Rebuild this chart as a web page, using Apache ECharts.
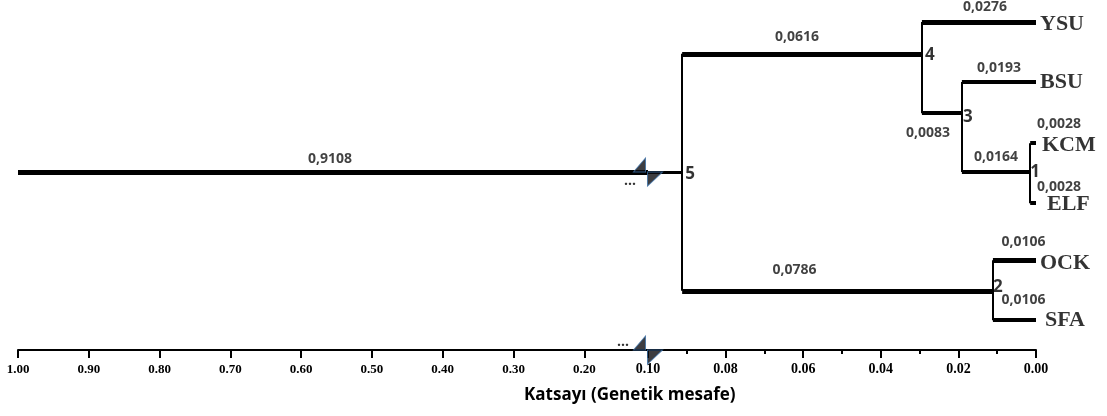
<!DOCTYPE html>
<html><head><meta charset="utf-8">
<script src="https://cdn.jsdelivr.net/npm/echarts@6/dist/echarts.min.js"></script>
<style>html,body{margin:0;padding:0;background:#fff}#c{width:1107px;height:416px}</style>
</head><body><div id="c"></div>
<script>
// ---------- DATA ----------
const leafNames = ['YSU', 'BSU', 'KCM', 'ELF', 'OCK', 'SFA'];
const leafRows = [0, 1, 2.02, 3.02, 3.97, 4.97];
const nodeNames = ['1', '2', '3', '4', '5'];
const nodeHeights = [0.0015, 0.0111, 0.0191, 0.0294, 0.0912];
const nodeRows = [2.5, 4.48, 1.52, 0.53, 2.5];
const nodeChildren = [['KCM', 'ELF'], ['OCK', 'SFA'], ['BSU', '1'], ['YSU', '3'], ['4', '2']];
const rootHeight = 1.0;
const branchChild = ['YSU', 'BSU', '3', 'KCM', 'ELF', '1', 'OCK', 'SFA', '4', '2', '5'];
const branchLabels = ['0,0276', '0,0193', '0,0083', '0,0028', '0,0028', '0,0164', '0,0106', '0,0106', '0,0616', '0,0786', '0,9108'];
const leftTicks = [1.0, 0.9, 0.8, 0.7, 0.6, 0.5, 0.4, 0.3, 0.2];
const rightTickStep = 0.02;
const axisTitle = 'Katsayı (Genetik mesafe)';

// ---------- LAYOUT / STYLE ----------
const A_MIN = 0.11, BREAK = 0.10;
const Y_MIN = -0.3, Y_MAX = 5.4667;
const thick = {YSU: 5, BSU: 4, '3': 4, KCM: 4, ELF: 4, '1': 4, OCK: 5, SFA: 4, '4': 5, '2': 5};
const branchOffset = {YSU: [6, -15], BSU: [0, -14], '3': [-14, 20], KCM: [26, -19], ELF: [26, -16], '1': [0, -15],
  OCK: [9, -18], SFA: [9, -20], '4': [-5, -17], '2': [-43, -21], '5': [-3, -13]};
const nodeOffset = {'5': [8, 2], '4': [8, 1], '3': [6, 4], '1': [5, 0], '2': [5, -4]};
const leafOffset = {YSU: [4, 2], BSU: [4, 0], KCM: [6, 2], ELF: [11, 1], OCK: [4, 3], SFA: [9, 0]};
const INK = '#000';
const breakPath = 'path://M0,14 L12,0 L12,14 Z M14,14 L29,14 L14,28 Z';

// ---------- BUILD ----------
const pos = {};
leafNames.forEach((n, i) => pos[n] = {h: 0, r: leafRows[i]});
nodeNames.forEach((n, i) => pos[n] = {h: nodeHeights[i], r: nodeRows[i]});
const parentOf = {};
nodeNames.forEach((n, i) => nodeChildren[i].forEach(c => parentOf[c] = n));

const segB = [];
nodeNames.forEach((n, i) => {
  const p = pos[n];
  const rows = nodeChildren[i].map(c => pos[c].r);
  segB.push({coords: [[p.h, Math.min(...rows)], [p.h, Math.max(...rows)]], lineStyle: {width: 2}});
  nodeChildren[i].forEach(c => {
    segB.push({coords: [[p.h, pos[c].r], [pos[c].h, pos[c].r]], lineStyle: {width: thick[c]}});
  });
});
segB.push({coords: [[BREAK, pos['5'].r], [pos['5'].h, pos['5'].r]], lineStyle: {width: 3}});
const segA = [{coords: [[rootHeight, pos['5'].r], [A_MIN, pos['5'].r]], lineStyle: {width: 5}}];

const lblFont = {fontFamily: 'Open Sans', fontWeight: 'bold', fontSize: 14, color: '#111'};
const branchB = [], branchA = [];
branchChild.forEach((c, i) => {
  if (c === '5') {
    branchA.push({value: [(rootHeight + A_MIN) / 2, pos[c].r, branchLabels[i]], label: {offset: branchOffset[c]}});
  } else {
    const ph = pos[parentOf[c]].h;
    branchB.push({value: [(ph + pos[c].h) / 2, pos[c].r, branchLabels[i]], label: {offset: branchOffset[c]}});
  }
});
const nodeData = nodeNames.map(n => ({value: [pos[n].h, pos[n].r, n], label: {offset: nodeOffset[n]}}));
const leafData = leafNames.map(n => ({value: [pos[n].h, pos[n].r, n], label: {offset: leafOffset[n]}}));
const breakData = [
  {value: [BREAK, pos['5'].r, '...'], label: {offset: [-18, 9]}},
  {value: [BREAK, Y_MAX, '...'], label: {offset: [-25, -8]}}
];

function textSeries(data, xi, font, align) {
  return {
    type: 'scatter', xAxisIndex: xi, yAxisIndex: xi, data: data, symbol: 'circle', symbolSize: 1,
    itemStyle: {color: 'rgba(0,0,0,0)'}, silent: true, z: 5,
    label: Object.assign({show: true, position: 'inside', align: align || 'center', verticalAlign: 'middle',
      formatter: p => p.value[2]}, font)
  };
}

const option = {
  animation: false,
  backgroundColor: '#fff',
  title: {text: axisTitle, left: 519, top: 382,
    textStyle: {fontFamily: 'Open Sans', fontWeight: 'bold', fontSize: 17, color: '#000'}},
  grid: [
    {left: 18, width: 630, top: 4, height: 346},
    {left: 648, width: 388, top: 4, height: 346}
  ],
  xAxis: [
    {gridIndex: 0, type: 'value', inverse: true, min: A_MIN, max: rootHeight, splitLine: {show: false},
      axisLine: {onZero: false, lineStyle: {color: INK, width: 2}},
      axisTick: {customValues: leftTicks, length: 8, lineStyle: {color: INK, width: 2}},
      axisLabel: {customValues: leftTicks, formatter: v => v.toFixed(2), margin: 13,
        fontFamily: 'Liberation Serif', fontWeight: 'bold', fontSize: 13, color: '#000'}},
    {gridIndex: 1, type: 'value', inverse: true, min: 0, max: BREAK, interval: rightTickStep, splitLine: {show: false},
      axisLine: {onZero: false, lineStyle: {color: INK, width: 2}},
      axisTick: {length: 8, lineStyle: {color: INK, width: 2}},
      minorTick: {show: true, splitNumber: 2, length: 4, lineStyle: {color: INK, width: 2}},
      axisLabel: {formatter: v => v.toFixed(2), margin: 12,
        fontFamily: 'Liberation Serif', fontWeight: 'bold', fontSize: 14, color: '#000'}}
  ],
  yAxis: [
    {gridIndex: 0, type: 'value', inverse: true, min: Y_MIN, max: Y_MAX, show: false},
    {gridIndex: 1, type: 'value', inverse: true, min: Y_MIN, max: Y_MAX, show: false}
  ],
  series: [
    {type: 'lines', coordinateSystem: 'cartesian2d', xAxisIndex: 0, yAxisIndex: 0, data: segA,
      lineStyle: {color: INK, opacity: 1, cap: 'butt'}, silent: true},
    {type: 'lines', coordinateSystem: 'cartesian2d', xAxisIndex: 1, yAxisIndex: 1, data: segB,
      lineStyle: {color: INK, opacity: 1, cap: 'butt'}, silent: true},
    textSeries(branchA, 0, lblFont),
    textSeries(branchB, 1, lblFont),
    textSeries(nodeData, 1, {fontFamily: 'Open Sans', fontWeight: 'bold', fontSize: 17, color: '#000'}),
    textSeries(leafData, 1, {fontFamily: 'Liberation Serif', fontWeight: 'bold', fontSize: 22, color: '#000'}, 'left'),
    {type: 'scatter', xAxisIndex: 1, yAxisIndex: 1, data: breakData, symbol: breakPath, symbolSize: [29, 28],
      clip: false, silent: true, z: 6,
      itemStyle: {color: '#0d0d12', borderColor: '#3b6fa6', borderWidth: 1},
      label: {show: true, position: 'inside', formatter: p => p.value[2], fontFamily: 'Open Sans',
        fontWeight: 'bold', fontSize: 14, color: '#000'}}
  ]
};
echarts.init(document.getElementById('c')).setOption(option);
</script></body></html>
